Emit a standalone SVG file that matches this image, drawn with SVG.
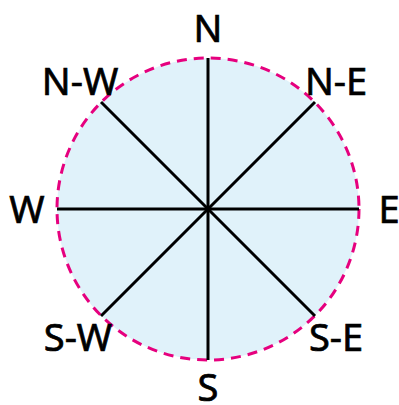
<svg xmlns="http://www.w3.org/2000/svg" width="399" height="405" viewBox="0 0 399 405">
<style>
.lbl{font-family:"Noto Sans","Open Sans",sans-serif;font-size:38px;fill:#000;stroke:#000;stroke-width:0.7;text-anchor:middle}
.ray{stroke:#000;stroke-width:3;fill:none}
</style>
<rect width="399" height="405" fill="#fff"/>
<g id="compass">
<circle cx="208" cy="209" r="151" fill="#e0f2fa" stroke="#e6007e" stroke-width="3" stroke-dasharray="10,7"/>
</g>
<g id="connectors">
<line class="ray" x1="208" y1="58" x2="208" y2="360"/>
<line class="ray" x1="57" y1="209" x2="359" y2="209"/>
<line class="ray" x1="101" y1="102" x2="315" y2="316"/>
<line class="ray" x1="315" y1="102" x2="101" y2="316"/>
</g>
<g id="n"><text class="lbl" x="208" y="42">N</text></g>
<g id="nw"><text class="lbl" x="80" y="95">N-W</text></g>
<g id="ne"><text class="lbl" x="336" y="95">N-E</text></g>
<g id="w"><text class="lbl" x="27" y="223">W</text></g>
<g id="e"><text class="lbl" x="389" y="223">E</text></g>
<g id="sw"><text class="lbl" x="78" y="351">S-W</text></g>
<g id="se"><text class="lbl" x="336" y="351">S-E</text></g>
<g id="s"><text class="lbl" x="208" y="401">S</text></g>
</svg>
